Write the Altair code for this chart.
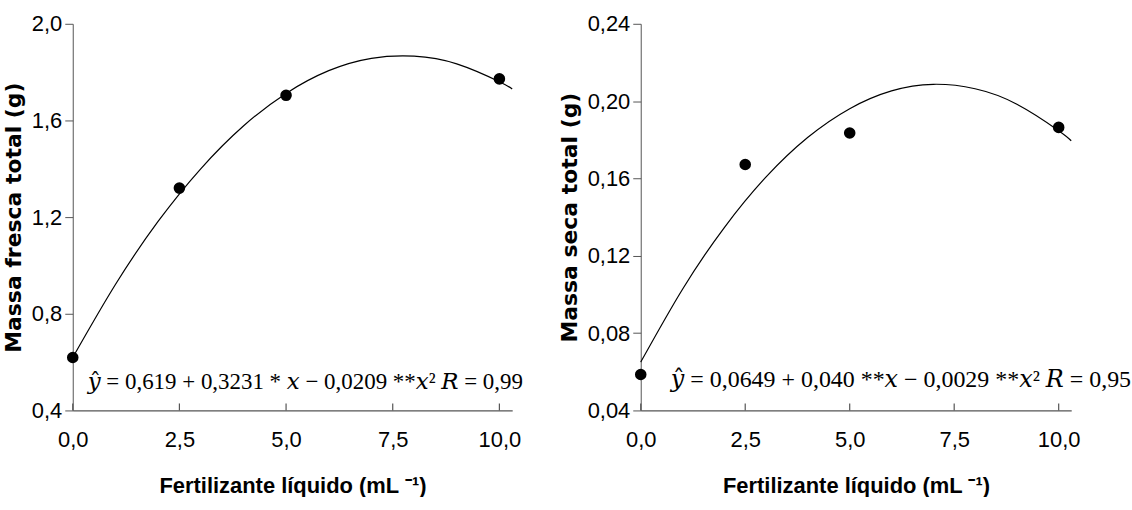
import altair as alt
import pandas as pd

# Observed data (points)
dose = [0.0, 2.5, 5.0, 10.0]
fresca = [0.619, 1.320, 1.704, 1.772]
seca = [0.0586, 0.1672, 0.1835, 0.1864]

# Fitted curves
curve_x = [0, 1, 2, 3, 4, 5, 6, 7, 8, 9, 10, 10.3]
curve_fresca = [0.619, 0.921, 1.182, 1.400, 1.577, 1.712, 1.806, 1.857, 1.866, 1.834, 1.760, 1.730]
curve_seca = [0.065, 0.1027, 0.1346, 0.1608, 0.1813, 0.1961, 0.2053, 0.2087, 0.2064, 0.1984, 0.1847, 0.1795]

x_ticks = [0, 2.5, 5, 7.5, 10]
eq_fresca = "𝑦̂ = 0,619 + 0,3231 * 𝑥 − 0,0209 **𝑥² 𝑅 = 0,99"
eq_seca = "𝑦̂ = 0,0649 + 0,040 **𝑥 − 0,0029 **𝑥² 𝑅 = 0,95"

LABEL_FONT = "Liberation Sans Narrow, Arial Narrow, Liberation Sans"
TITLE_FONT = "DejaVu Sans"
XTITLE_FONT = "Liberation Sans Narrow, Arial Narrow, Liberation Sans"
EQ_FONT = "Liberation Serif, DejaVu Serif, Noto Serif, serif"
AXIS_COLOR = "#555555"

W1, W2, H = 441, 432, 388


def panel(yvals, cvals, ydom, ystep, ytitle, eq, eq_x, eq_y, eq_size, width, yfmt):
    pts = pd.DataFrame({"x": dose, "y": yvals})
    crv = pd.DataFrame({"x": curve_x, "y": cvals})
    tks = pd.DataFrame({"tx": x_ticks})
    eqd = pd.DataFrame({"x": [eq_x], "y": [eq_y], "t": [eq]})

    xscale = alt.Scale(domain=[0, 10.3], nice=False, zero=False)
    yscale = alt.Scale(domain=ydom, nice=False, zero=False)
    yticks = []
    v = ydom[0]
    while v <= ydom[1] + 1e-9:
        yticks.append(round(v, 4))
        v += ystep

    xaxis = alt.Axis(
        values=x_ticks, labelExpr="replace(format(datum.value, '.1f'), '.', ',')",
        title="Fertilizante líquido (mL ⁻¹)", ticks=False, grid=False, labelFlush=False,
        domainColor=AXIS_COLOR, domainWidth=1.2, labelFont=LABEL_FONT, labelFontSize=22,
        labelColor="black", labelPadding=19, titleFont=XTITLE_FONT, titleFontSize=22,
        titleFontWeight="bold", titleColor="black", titlePadding=25,
    )
    yaxis = alt.Axis(
        values=yticks, labelExpr="replace(format(datum.value, '" + yfmt + "'), '.', ',')",
        title=ytitle, grid=False, tickSize=8, tickColor=AXIS_COLOR, domainColor=AXIS_COLOR,
        domainWidth=1, labelFont=LABEL_FONT, labelFontSize=22, labelColor="black",
        labelPadding=3, labelFlush=False, titleFont=TITLE_FONT, titleFontSize=22,
        titleFontWeight="bold", titleColor="black", titlePadding=6,
    )

    line = alt.Chart(crv).mark_line(color="black", strokeWidth=1.2, interpolate="natural").encode(
        x=alt.X("x:Q", scale=xscale, axis=xaxis),
        y=alt.Y("y:Q", scale=yscale, axis=yaxis),
    )
    points = alt.Chart(pts).mark_circle(color="black", opacity=1, size=135).encode(
        x=alt.X("x:Q", scale=xscale), y=alt.Y("y:Q", scale=yscale)
    )
    ticks = alt.Chart(tks).mark_rule(color=AXIS_COLOR, strokeWidth=1.2).encode(
        x=alt.X("tx:Q", scale=xscale), y=alt.value(H), y2=alt.value(H - 7)
    )
    text = alt.Chart(eqd).mark_text(
        font=EQ_FONT, fontSize=eq_size, align="left", baseline="alphabetic", color="black"
    ).encode(x=alt.X("x:Q", scale=xscale), y=alt.Y("y:Q", scale=yscale), text="t:N")
    return alt.layer(ticks, line, points, text).properties(width=width, height=H)


left = panel(fresca, curve_fresca, [0.4, 2.0], 0.4, "Massa fresca total (g)", eq_fresca,
             0.35, 0.487, 23, W1, ".1f")
right = panel(seca, curve_seca, [0.04, 0.24], 0.04, "Massa seca total (g)", eq_seca,
              0.72, 0.0519, 24, W2, ".2f")

chart = alt.hconcat(left, right, spacing=34).properties(
    padding={"left": 2, "top": 12, "right": 0, "bottom": 0}, background="white"
).configure_view(stroke=None)

chart.save("out.html", embed_options={"renderer": "svg", "actions": False})
